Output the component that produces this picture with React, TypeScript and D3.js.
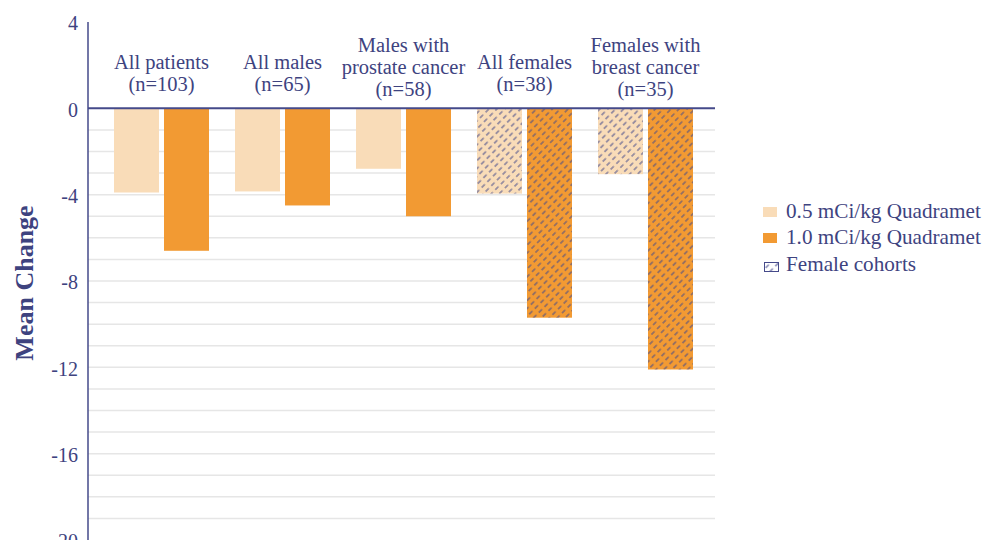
import React from "react";
import * as d3 from "d3";

const categories: string[][] = [
  ["All patients", "(n=103)"],
  ["All males", "(n=65)"],
  ["Males with", "prostate cancer", "(n=58)"],
  ["All females", "(n=38)"],
  ["Females with", "breast cancer", "(n=35)"],
];
const lowDose: number[] = [-3.9, -3.85, -2.8, -3.95, -3.05];
const highDose: number[] = [-6.6, -4.5, -5.0, -9.7, -12.1];
const femaleCohort: boolean[] = [false, false, false, true, true];
const yTicks: number[] = [4, 0, -4, -8, -12, -16, -20];
const seriesNames: string[] = ["0.5 mCi/kg Quadramet", "1.0 mCi/kg Quadramet"];
const hatchLabel = "Female cohorts";
const yLabel = "Mean Change";

const W = 987;
const H = 540;
const NAVY = "#454a8a";
const TEXT = "#3e437f";
const LIGHT = "#f9dcb8";
const ORANGE = "#f29a33";
const GRID = "#e6e6e6";
const FONT = "'Liberation Serif', 'Times New Roman', serif";

export default function App() {
  const y = d3.scaleLinear().domain([4, -20]).range([22, 540]);
  const ids = categories.map((_, i) => String(i));
  const x0 = d3.scaleBand().domain(ids).range([101, 706]).padding(0);
  const x1 = d3.scaleBand().domain(["low", "high"]).range([13, 108]).paddingInner(0.1).paddingOuter(0);
  const gridVals = d3.range(-1, -20, -1);
  const axisX = 88;
  const gridEnd = 715;

  const bars: { key: string; x: number; y0: number; y1: number; fill: string; hatch: boolean }[] = [];
  categories.forEach((_, i) => {
    const gx = x0(String(i))!;
    [
      ["low", lowDose[i], LIGHT],
      ["high", highDose[i], ORANGE],
    ].forEach(([k, v, c]) => {
      bars.push({
        key: `${i}-${k}`,
        x: gx + x1(k as string)!,
        y0: y(0),
        y1: y(v as number),
        fill: c as string,
        hatch: femaleCohort[i],
      });
    });
  });

  return (
    <svg width={W} height={H} style={{ position: "absolute", left: 0, top: 0, background: "#fff" }} fontFamily={FONT}>
      <defs>
        <pattern id="hatch" width="8" height="5.6" patternUnits="userSpaceOnUse" patternTransform="rotate(-45)">
          <line x1="0" y1="2.8" x2="8" y2="2.8" stroke={NAVY} strokeWidth="1" strokeDasharray="4.5 3.5" />
        </pattern>
      </defs>
      {gridVals.map((g) => (
        <line key={g} x1={axisX} x2={gridEnd} y1={y(g)} y2={y(g)} stroke={GRID} strokeWidth={1.5} />
      ))}
      {bars.map((b) => (
        <g key={b.key}>
          <rect x={b.x} y={b.y0} width={x1.bandwidth()} height={b.y1 - b.y0} fill={b.fill} />
          {b.hatch && <rect x={b.x} y={b.y0} width={x1.bandwidth()} height={b.y1 - b.y0} fill="url(#hatch)" />}
        </g>
      ))}
      <line x1={axisX} x2={gridEnd} y1={y(0)} y2={y(0)} stroke={NAVY} strokeWidth={2} />
      <line x1={axisX} x2={axisX} y1={y(4)} y2={H} stroke={NAVY} strokeWidth={1.5} />
      {yTicks.map((t) => (
        <text key={t} x={78} y={y(t)} dy="0.42em" textAnchor="end" fontSize={20} fill={TEXT}>
          {t}
        </text>
      ))}
      <text
        transform={`translate(33,${283}) rotate(-90)`}
        textAnchor="middle"
        fontSize={26}
        fontWeight="bold"
        fill={TEXT}
      >
        {yLabel}
      </text>
      {categories.map((lines, i) => {
        const cx = x0(String(i))! + x0.bandwidth() / 2;
        const last = lines.length === 3 ? 96 : 91;
        return (
          <text key={i} textAnchor="middle" fontSize={20.5} fill={TEXT}>
            {lines.map((l, j) => (
              <tspan key={j} x={cx} y={last - (lines.length - 1 - j) * 21.8}>
                {l}
              </tspan>
            ))}
          </text>
        );
      })}
      <g>
        {seriesNames.map((n, i) => (
          <g key={n}>
            <rect x={763} y={207 + i * 26} width={14} height={10} fill={i === 0 ? LIGHT : ORANGE} />
            <text x={786} y={218 + i * 26} fontSize={21.2} fill={TEXT}>
              {n}
            </text>
          </g>
        ))}
        <rect x={764.5} y={262.5} width={14} height={9} fill="#fff" stroke={NAVY} strokeWidth={1} />
        <rect x={764.5} y={262.5} width={14} height={9} fill="url(#hatch)" />
        <text x={786} y={271} fontSize={21.2} fill={TEXT}>
          {hatchLabel}
        </text>
      </g>
    </svg>
  );
}
